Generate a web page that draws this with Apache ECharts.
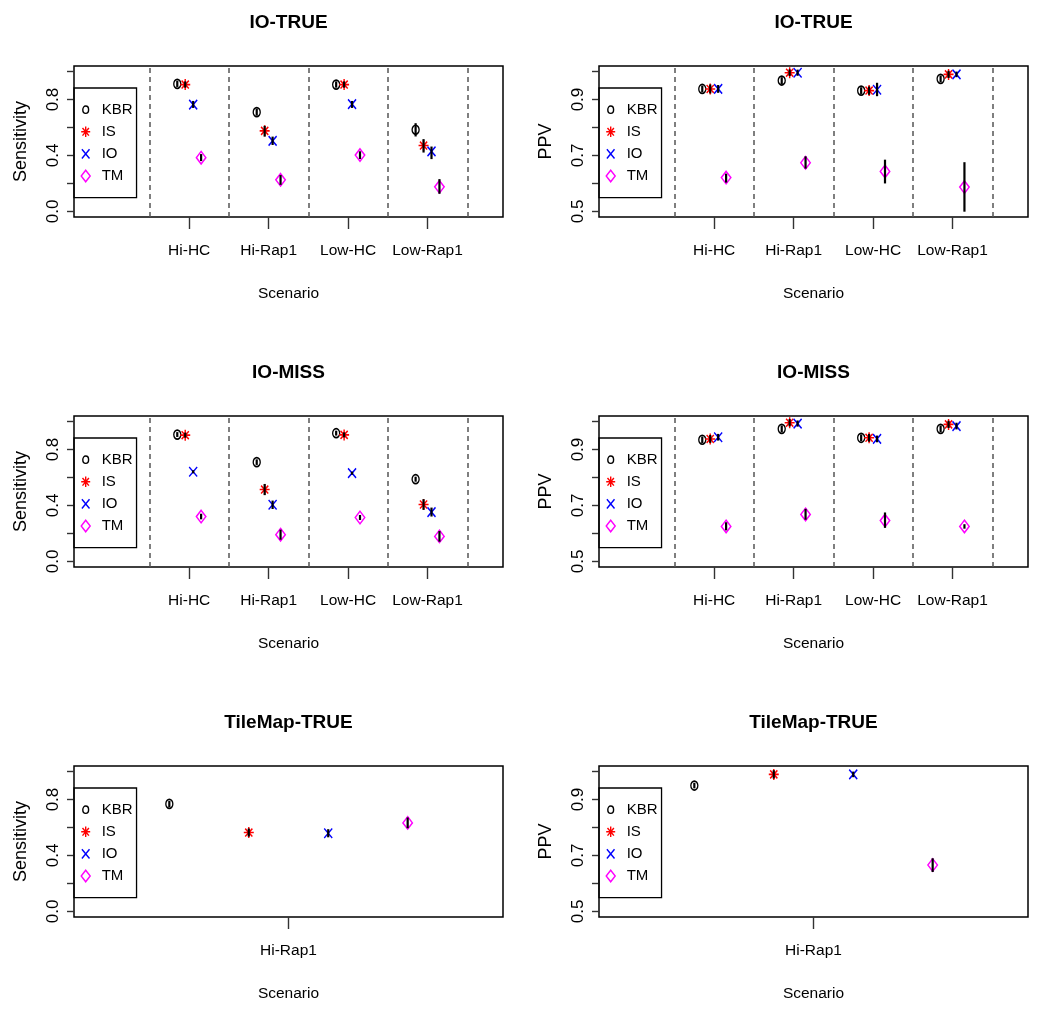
<!DOCTYPE html>
<html><head><meta charset="utf-8">
<script src="https://cdn.jsdelivr.net/npm/echarts@6/dist/echarts.min.js"></script>
<style>html,body{margin:0;padding:0;background:#fff}#c{width:1050px;height:1010px}</style>
</head><body><div id="c"></div>
<script>
// ---------- data ----------
const methods = ['KBR', 'IS', 'IO', 'TM'];
const scenarios = ['Hi-HC', 'Hi-Rap1', 'Low-HC', 'Low-Rap1'];
const tileScenarios = ['Hi-Rap1'];
const dividers = [0.5, 1.5, 2.5, 3.5, 4.5];
const offsets = [-0.15, -0.05, 0.05, 0.15];
const sensTicks = [0, 0.2, 0.4, 0.6, 0.8, 1.0];
const sensLabels = [0, 0.4, 0.8];
const ppvTicks = [0.5, 0.6, 0.7, 0.8, 0.9, 1.0];
const ppvLabels = [0.5, 0.7, 0.9];

// rows: KBR, IS, IO, TM ; columns: scenarios
const ioTrueSens     = [[0.912, 0.710, 0.907, 0.584], [0.907, 0.576, 0.907, 0.471], [0.764, 0.505, 0.767, 0.429], [0.384, 0.226, 0.403, 0.176]];
const ioTrueSensLow  = [[0.890, 0.685, 0.885, 0.536], [0.885, 0.535, 0.885, 0.421], [0.740, 0.475, 0.740, 0.374], [0.360, 0.190, 0.375, 0.126]];
const ioTrueSensHigh = [[0.935, 0.735, 0.930, 0.631], [0.930, 0.612, 0.930, 0.517], [0.790, 0.535, 0.790, 0.464], [0.410, 0.260, 0.430, 0.231]];

const ioTruePpv      = [[0.938, 0.968, 0.932, 0.974], [0.938, 0.996, 0.932, 0.990], [0.938, 0.996, 0.935, 0.990], [0.621, 0.674, 0.643, 0.587]];
const ioTruePpvLow   = [[0.926, 0.955, 0.920, 0.962], [0.922, 0.984, 0.917, 0.977], [0.924, 0.985, 0.912, 0.980], [0.603, 0.653, 0.600, 0.499]];
const ioTruePpvHigh  = [[0.950, 0.980, 0.944, 0.986], [0.954, 1.008, 0.947, 1.003], [0.952, 1.007, 0.960, 1.000], [0.635, 0.697, 0.685, 0.676]];

const ioMissSens     = [[0.907, 0.710, 0.917, 0.588], [0.903, 0.514, 0.905, 0.407], [0.641, 0.405, 0.631, 0.353], [0.321, 0.191, 0.314, 0.179]];
const ioMissSensLow  = [[0.890, 0.690, 0.900, 0.570], [0.885, 0.474, 0.887, 0.369], [0.630, 0.375, 0.620, 0.321], [0.301, 0.155, 0.296, 0.141]];
const ioMissSensHigh = [[0.925, 0.730, 0.935, 0.606], [0.921, 0.554, 0.923, 0.445], [0.652, 0.435, 0.642, 0.385], [0.341, 0.227, 0.332, 0.217]];

const ioMissPpv      = [[0.935, 0.974, 0.942, 0.974], [0.938, 0.996, 0.942, 0.990], [0.944, 0.993, 0.938, 0.984], [0.625, 0.668, 0.646, 0.625]];
const ioMissPpvLow   = [[0.923, 0.962, 0.930, 0.962], [0.924, 0.983, 0.928, 0.977], [0.932, 0.982, 0.926, 0.972], [0.611, 0.649, 0.620, 0.617]];
const ioMissPpvHigh  = [[0.947, 0.986, 0.954, 0.986], [0.952, 1.009, 0.956, 1.003], [0.956, 1.004, 0.950, 0.996], [0.640, 0.688, 0.675, 0.633]];

const tileSens       = [[0.769], [0.564], [0.559], [0.633]];
const tileSensLow    = [[0.745], [0.535], [0.530], [0.595]];
const tileSensHigh   = [[0.790], [0.593], [0.588], [0.672]];

const tilePpv        = [[0.950], [0.990], [0.990], [0.666]];
const tilePpvLow     = [[0.940], [0.975], [0.980], [0.641]];
const tilePpvHigh    = [[0.960], [1.005], [1.000], [0.690]];

// ---------- styling ----------
const FONT = "'Liberation Sans',Arial,Helvetica,sans-serif";
const colors = ['#000000', '#ff0000', '#0000ff', '#ff00ff'];
const markerPaths = [
  'path://M0,-1A1,1,0,1,1,0,1A1,1,0,1,1,0,-1Z',
  'path://M0,-1L0,1M-1,0L1,0M-0.72,-0.72L0.72,0.72M-0.72,0.72L0.72,-0.72',
  'path://M-1,-1L1,1M-1,1L1,-1',
  'path://M0,-1L1,0L0,1L-1,0Z'
];
const markerSizes = [[7, 9], [10, 11], [8, 9.5], [9.5, 12.5]];
const legendIcons = [
  'path://M0,0M22,14M11,3.3A2.9,3.7,0,1,1,11,10.7A2.9,3.7,0,1,1,11,3.3Z',
  'path://M0,0M22,14M11,1.7L11,12.3M6.5,7L15.5,7M7.8,3.2L14.2,10.8M7.8,10.8L14.2,3.2',
  'path://M0,0M22,14M7.2,2.4L14.8,11.6M7.2,11.6L14.8,2.4',
  'path://M0,0M22,14M11,1.2L15.5,7L11,12.8L6.5,7Z'
];

const colLeft = [74, 599];
const rowTop = [66, 416, 766];
const gridW = 429, gridH = 151;

const panels = [
  { title: 'IO-TRUE', yName: 'Sensitivity', cats: scenarios, val: ioTrueSens, lo: ioTrueSensLow, hi: ioTrueSensHigh, row: 0, col: 0 },
  { title: 'IO-TRUE', yName: 'PPV', cats: scenarios, val: ioTruePpv, lo: ioTruePpvLow, hi: ioTruePpvHigh, row: 0, col: 1 },
  { title: 'IO-MISS', yName: 'Sensitivity', cats: scenarios, val: ioMissSens, lo: ioMissSensLow, hi: ioMissSensHigh, row: 1, col: 0 },
  { title: 'IO-MISS', yName: 'PPV', cats: scenarios, val: ioMissPpv, lo: ioMissPpvLow, hi: ioMissPpvHigh, row: 1, col: 1 },
  { title: 'TileMap-TRUE', yName: 'Sensitivity', cats: tileScenarios, val: tileSens, lo: tileSensLow, hi: tileSensHigh, row: 2, col: 0 },
  { title: 'TileMap-TRUE', yName: 'PPV', cats: tileScenarios, val: tilePpv, lo: tilePpvLow, hi: tilePpvHigh, row: 2, col: 1 }
];

const option = {
  animation: false,
  backgroundColor: '#fff',
  title: [], grid: [], xAxis: [], yAxis: [], legend: [], series: []
};

panels.forEach((p, i) => {
  const left = colLeft[p.col], top = rowTop[p.row];
  const isSens = p.yName === 'Sensitivity';
  const multi = p.cats.length > 1;
  const catPos = p.cats.map((c, j) => j + 1);
  option.title.push({
    text: p.title, left: left + gridW / 2, top: top - 53, textAlign: 'center', padding: 0,
    textStyle: { fontFamily: FONT, fontWeight: 'bold', fontSize: 19, color: '#000' }
  });
  option.grid.push({
    left: left, top: top, width: gridW, height: gridH, show: true,
    borderColor: '#000', borderWidth: 1.5, backgroundColor: 'transparent', outerBoundsMode: 'none'
  });
  option.xAxis.push({
    type: 'value', gridIndex: i,
    min: multi ? -0.45 : 0.73, max: multi ? 4.95 : 1.27,
    axisLine: { show: false, onZero: false }, splitLine: { show: false },
    axisTick: { show: true, customValues: catPos, length: 12, lineStyle: { color: '#333', width: 1.4 } },
    axisLabel: {
      customValues: catPos, formatter: v => p.cats[Math.round(v) - 1], margin: 26,
      fontFamily: FONT, fontSize: 15.5, color: '#000'
    },
    name: 'Scenario', nameLocation: 'middle', nameGap: 69,
    nameTextStyle: { fontFamily: FONT, fontSize: 15.5, color: '#000' }
  });
  option.yAxis.push({
    type: 'value', gridIndex: i,
    min: isSens ? -0.04 : 0.48, max: isSens ? 1.04 : 1.02,
    axisLine: { show: false, onZero: false }, splitLine: { show: false },
    axisTick: { show: true, customValues: isSens ? sensTicks : ppvTicks, length: 7, lineStyle: { color: '#333', width: 1.4 } },
    axisLabel: {
      customValues: isSens ? sensLabels : ppvLabels, formatter: v => Number(v).toFixed(1),
      rotate: 90, margin: 12, fontFamily: FONT, fontSize: 17, color: '#000'
    },
    name: p.yName, nameLocation: 'middle', nameGap: 44, nameRotate: 90,
    nameTextStyle: { fontFamily: FONT, fontSize: 18, color: '#000' }
  });
  option.legend.push({
    left: left, top: top + 22, orient: 'vertical', padding: [14, 4, 14, 0],
    itemGap: 6.7, itemWidth: 22, itemHeight: 14, selectedMode: false,
    borderColor: '#000', borderWidth: 1.3, borderRadius: 0,
    textStyle: { fontFamily: FONT, fontSize: 15, color: '#000' },
    itemStyle: { borderWidth: 1.4 },
    data: methods.map((n, m) => ({ name: n, icon: legendIcons[m] }))
  });
  methods.forEach((name, m) => {
    const s = {
      type: 'scatter', name: name, xAxisIndex: i, yAxisIndex: i, silent: true, z: 2,
      symbol: markerPaths[m], symbolSize: markerSizes[m],
      itemStyle: { color: 'rgba(0,0,0,0)', borderColor: colors[m], borderWidth: 1.5, opacity: 1 },
      data: p.cats.map((c, j) => [j + 1 + offsets[m], p.val[m][j]])
    };
    if (m === 0 && multi) {
      s.markLine = {
        silent: true, symbol: 'none', label: { show: false }, animation: false,
        lineStyle: { type: [5, 4], color: '#555', width: 1.5 },
        emphasis: { disabled: true },
        data: dividers.map(v => ({ xAxis: v }))
      };
    }
    option.series.push(s);
  });
  const bars = [];
  methods.forEach((name, m) => {
    p.cats.forEach((c, j) => bars.push([j + 1 + offsets[m], p.lo[m][j], p.hi[m][j]]));
  });
  option.series.push({
    type: 'custom', name: 'CI', xAxisIndex: i, yAxisIndex: i, silent: true, z: 3, clip: false,
    encode: { x: 0, y: [1, 2] },
    renderItem: (params, api) => {
      const a = api.coord([api.value(0), api.value(1)]);
      const b = api.coord([api.value(0), api.value(2)]);
      return { type: 'line', shape: { x1: a[0], y1: a[1], x2: b[0], y2: b[1] }, style: { stroke: '#000', lineWidth: 2.2 } };
    },
    data: bars
  });
});

const chart = echarts.init(document.getElementById('c'), null, { renderer: 'canvas' });
chart.setOption(option);
</script>
</body></html>
